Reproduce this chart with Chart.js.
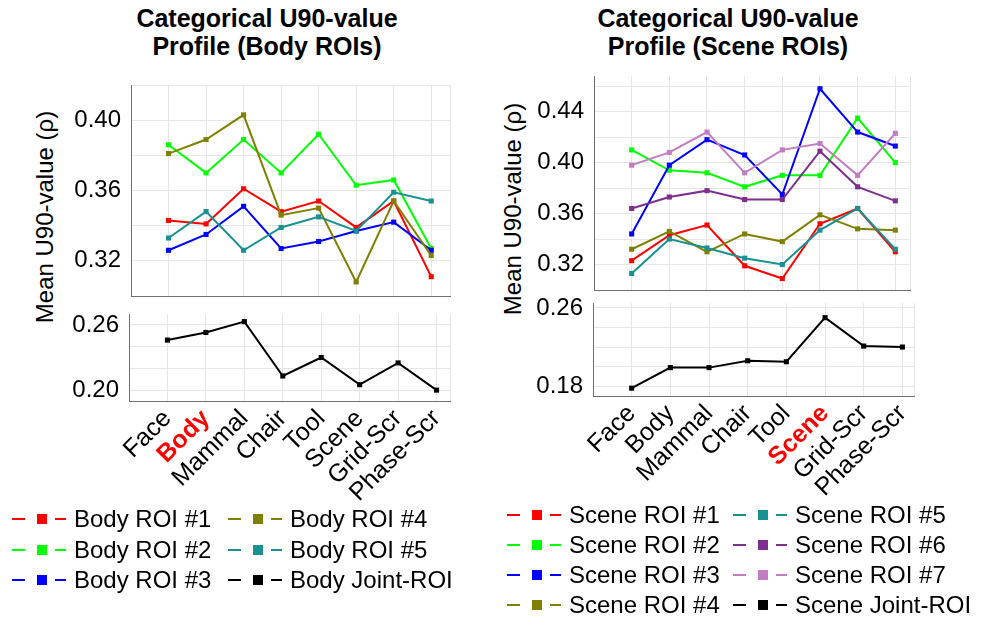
<!DOCTYPE html>
<html lang="en">
<head>
<meta charset="UTF-8">
<title>Categorical U90-value Profile</title>
<script src="https://cdn.jsdelivr.net/npm/chart.js@4.4.1/dist/chart.umd.min.js"></script>
<style>
  body { margin: 0; background: #fff; font-family: "Liberation Sans", Arial, sans-serif; }
  #page { position: relative; width: 982px; height: 621px; overflow: hidden; }
  canvas { position: absolute; }
  .title { position: absolute; width: 400px; font-weight: bold; font-size: 25px; line-height: 28px; text-align: center; color: #000; }
  .ytitle { position: absolute; font-size: 24px; white-space: nowrap; transform: translate(-50%, -50%) rotate(-90deg); }
  .leg { position: absolute; height: 30px; }
  .leg span { position: absolute; }
  .leg .txt { font-size: 24px; line-height: 30px; white-space: nowrap; top: 0; }
</style>
</head>
<body>
<div id="page">
  <div class="title" style="left:67px; top:4px;">Categorical U90-value<br>Profile (Body ROIs)</div>
  <div class="title" style="left:528px; top:4px;">Categorical U90-value<br>Profile (Scene ROIs)</div>
  <div class="ytitle" style="left:45px; top:217px;">Mean U90-value (&rho;)</div>
  <div class="ytitle" style="left:513px; top:209px;">Mean U90-value (&rho;)</div>
</div>

<script>
// categories on the x axis
var categories = ['Face', 'Body', 'Mammal', 'Chair', 'Tool', 'Scene', 'Grid-Scr', 'Phase-Scr'];

// body ROIs (left)
var bodyRoi1  = [0.343, 0.341, 0.361, 0.348, 0.354, 0.339, 0.354, 0.311];
var bodyRoi2  = [0.386, 0.370, 0.389, 0.370, 0.392, 0.363, 0.366, 0.327];
var bodyRoi3  = [0.326, 0.335, 0.351, 0.327, 0.331, 0.337, 0.342, 0.326];
var bodyRoi4  = [0.381, 0.389, 0.403, 0.346, 0.350, 0.308, 0.354, 0.323];
var bodyRoi5  = [0.333, 0.348, 0.326, 0.339, 0.345, 0.337, 0.359, 0.354];
var bodyJoint = [0.246, 0.253, 0.263, 0.213, 0.230, 0.205, 0.225, 0.200];

// scene ROIs (right)
var sceneRoi1  = [0.323, 0.343, 0.351, 0.319, 0.309, 0.352, 0.364, 0.330];
var sceneRoi2  = [0.410, 0.394, 0.392, 0.381, 0.390, 0.390, 0.435, 0.400];
var sceneRoi3  = [0.344, 0.398, 0.418, 0.406, 0.375, 0.458, 0.424, 0.413];
var sceneRoi4  = [0.332, 0.346, 0.330, 0.344, 0.338, 0.359, 0.348, 0.347];
var sceneRoi5  = [0.313, 0.340, 0.333, 0.325, 0.320, 0.347, 0.364, 0.332];
var sceneRoi6  = [0.364, 0.373, 0.378, 0.371, 0.371, 0.409, 0.381, 0.370];
var sceneRoi7  = [0.398, 0.408, 0.424, 0.392, 0.410, 0.415, 0.390, 0.423];
var sceneJoint = [0.178, 0.199, 0.199, 0.206, 0.205, 0.250, 0.221, 0.220];

// y ticks (grid lines) and which of them carry a label
var bodyTopGrid     = [0.30, 0.32, 0.34, 0.36, 0.38, 0.40, 0.42];
var bodyTopLabels   = [0.32, 0.36, 0.40];
var bodyJointGrid   = [0.20, 0.22, 0.24, 0.26];
var bodyJointLabels = [0.20, 0.26];
var sceneTopGrid     = [0.32, 0.34, 0.36, 0.38, 0.40, 0.42, 0.44, 0.46];
var sceneTopLabels   = [0.32, 0.36, 0.40, 0.44];
var sceneJointGrid   = [0.18, 0.20, 0.22, 0.24, 0.26];
var sceneJointLabels = [0.18, 0.26];

var RED = '#ff0000', GREEN = '#00ff00', BLUE = '#0000ff', OLIVE = '#808000',
    TEAL = '#179191', PURPLE = '#7e2f8e', PINK = '#c27cc2', BLACK = '#000000';
var GRID = '#e6e6e6', AXIS = '#707070';

Chart.defaults.font.family = '"Liberation Sans", Arial, sans-serif';
Chart.defaults.color = '#000';

var page = document.getElementById('page');

function makePanel(opt) {
    var cv = document.createElement('canvas');
    var left = opt.canvasLeft;
    var top = opt.box.t - 10;
    var xH = opt.showX ? 115 : 0;
    cv.width = opt.box.r + 10 - left;
    cv.height = opt.box.b - top + (opt.showX ? xH : 10);
    cv.style.left = left + 'px';
    cv.style.top = top + 'px';
    page.appendChild(cv);

    var xTicks = [-1];
    categories.forEach(function (c, i) { xTicks.push(i); });
    xTicks.push(opt.xMax);

    var isHi = function (c) { return c.tick && c.tick.value === opt.highlight; };

    new Chart(cv, {
        type: 'line',
        data: {
            datasets: opt.series.map(function (s, i) {
                return {
                    label: s.name,
                    data: s.values.map(function (v, j) { return { x: j, y: v }; }),
                    borderColor: s.color,
                    backgroundColor: s.color,
                    borderWidth: 2,
                    pointStyle: 'rect',
                    pointRadius: 3.6,
                    pointBorderWidth: 0,
                    order: -i,
                    clip: false
                };
            })
        },
        options: {
            responsive: false,
            animation: false,
            devicePixelRatio: 1,
            layout: { padding: { left: 0, top: 10, right: 10, bottom: opt.showX ? 0 : 10 } },
            plugins: { legend: { display: false }, tooltip: { enabled: false } },
            scales: {
                x: {
                    type: 'linear',
                    min: -1,
                    max: opt.xMax,
                    afterBuildTicks: function (s) { s.ticks = xTicks.map(function (v) { return { value: v }; }); },
                    afterFit: function (s) { s.height = xH; s.paddingLeft = 0; s.paddingRight = 0; },
                    grid: { color: GRID, drawTicks: false },
                    border: { color: AXIS, width: 1 },
                    ticks: {
                        display: opt.showX,
                        autoSkip: false,
                        minRotation: 45,
                        maxRotation: 45,
                        padding: 3,
                        callback: function (v) {
                            return (Number.isInteger(v) && v >= 0 && v < categories.length) ? categories[v] : '';
                        },
                        color: function (c) { return isHi(c) ? '#ff0000' : '#000'; },
                        font: function (c) { return { size: 25, weight: isHi(c) ? 'bold' : 'normal' }; }
                    }
                },
                y: {
                    min: opt.yMin,
                    max: opt.yMax,
                    afterBuildTicks: function (s) { s.ticks = opt.yGrid.map(function (v) { return { value: v }; }); },
                    afterFit: function (s) { s.width = opt.box.l - left; s.paddingTop = 0; s.paddingBottom = 0; },
                    grid: { color: GRID, drawTicks: false },
                    border: { color: AXIS, width: 1 },
                    ticks: {
                        autoSkip: false,
                        padding: 10,
                        font: { size: 24 },
                        callback: function (v) { return opt.yLabels.indexOf(v) >= 0 ? v.toFixed(2) : ''; }
                    }
                }
            }
        }
    });
}

makePanel({
    canvasLeft: 40, box: { l: 131, t: 85, r: 450, b: 296 },
    yMin: 0.30, yMax: 0.42, yGrid: bodyTopGrid, yLabels: bodyTopLabels,
    xMax: 7.5, showX: false,
    series: [
        { name: 'Body ROI #1', values: bodyRoi1, color: RED },
        { name: 'Body ROI #2', values: bodyRoi2, color: GREEN },
        { name: 'Body ROI #3', values: bodyRoi3, color: BLUE },
        { name: 'Body ROI #4', values: bodyRoi4, color: OLIVE },
        { name: 'Body ROI #5', values: bodyRoi5, color: TEAL }
    ]
});
makePanel({
    canvasLeft: 40, box: { l: 129, t: 314, r: 450, b: 401 },
    yMin: 0.19, yMax: 0.27, yGrid: bodyJointGrid, yLabels: bodyJointLabels,
    xMax: 7.35, showX: true, highlight: 1,
    series: [{ name: 'Body Joint-ROI', values: bodyJoint, color: BLACK }]
});
makePanel({
    canvasLeft: 520, box: { l: 594, t: 76, r: 910, b: 290 },
    yMin: 0.30, yMax: 0.468, yGrid: sceneTopGrid, yLabels: sceneTopLabels,
    xMax: 7.39, showX: false,
    series: [
        { name: 'Scene ROI #1', values: sceneRoi1, color: RED },
        { name: 'Scene ROI #2', values: sceneRoi2, color: GREEN },
        { name: 'Scene ROI #3', values: sceneRoi3, color: BLUE },
        { name: 'Scene ROI #4', values: sceneRoi4, color: OLIVE },
        { name: 'Scene ROI #5', values: sceneRoi5, color: TEAL },
        { name: 'Scene ROI #6', values: sceneRoi6, color: PURPLE },
        { name: 'Scene ROI #7', values: sceneRoi7, color: PINK }
    ]
});
makePanel({
    canvasLeft: 520, box: { l: 593, t: 303, r: 914, b: 396 },
    yMin: 0.17, yMax: 0.265, yGrid: sceneJointGrid, yLabels: sceneJointLabels,
    xMax: 7.3, showX: true, highlight: 5,
    series: [{ name: 'Scene Joint-ROI', values: sceneJoint, color: BLACK }]
});

// legends: "— ■ —  label"
function legendItem(x, y, name, color) {
    var d = document.createElement('div');
    d.className = 'leg';
    d.style.left = x + 'px';
    d.style.top = (y - 15) + 'px';
    d.innerHTML =
        '<span style="left:0;top:14px;width:13px;height:2px;background:' + color + '"></span>' +
        '<span style="left:25px;top:10px;width:10px;height:10px;background:' + color + '"></span>' +
        '<span style="left:43px;top:14px;width:11px;height:2px;background:' + color + '"></span>' +
        '<span class="txt" style="left:62px">' + name + '</span>';
    page.appendChild(d);
}

var bodyLegendNames  = ['Body ROI #1', 'Body ROI #2', 'Body ROI #3', 'Body ROI #4', 'Body ROI #5', 'Body Joint-ROI'];
var bodyLegendColors = [RED, GREEN, BLUE, OLIVE, TEAL, BLACK];
var sceneLegendNames  = ['Scene ROI #1', 'Scene ROI #2', 'Scene ROI #3', 'Scene ROI #4',
                         'Scene ROI #5', 'Scene ROI #6', 'Scene ROI #7', 'Scene Joint-ROI'];
var sceneLegendColors = [RED, GREEN, BLUE, OLIVE, TEAL, PURPLE, PINK, BLACK];

bodyLegendNames.forEach(function (n, i) {
    legendItem(i < 3 ? 12 : 228, 519 + (i % 3) * 30.5, n, bodyLegendColors[i]);
});
sceneLegendNames.forEach(function (n, i) {
    legendItem(i < 4 ? 507 : 733, 515 + (i % 4) * 30, n, sceneLegendColors[i]);
});
</script>
</body>
</html>
